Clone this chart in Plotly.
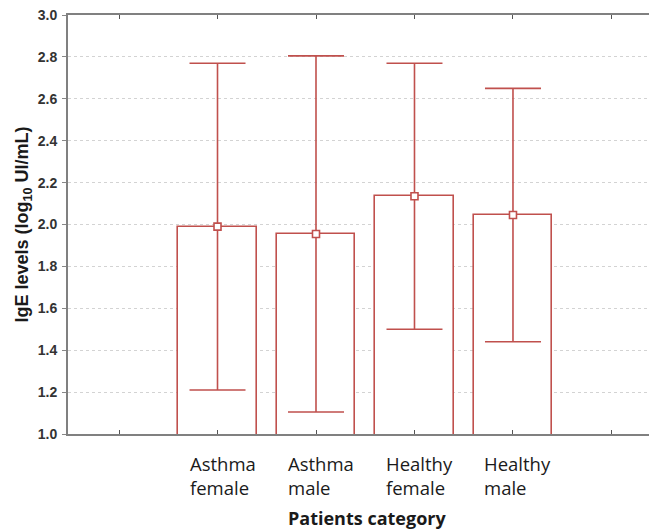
import plotly.graph_objects as go

categories = ["Asthma<br>female", "Asthma<br>male", "Healthy<br>female", "Healthy<br>male"]
means = [1.99, 1.955, 2.135, 2.045]
errors = [0.78, 0.85, 0.635, 0.605]
y_ticks = [1.0, 1.2, 1.4, 1.6, 1.8, 2.0, 2.2, 2.4, 2.6, 2.8, 3.0]
y_tick_labels = ["1.0", "1.2", "1.4", "1.6", "1.8", "2.0", "2.2", "2.4", "2.6", "2.8", "3.0"]

RED = "#c0504d"
xpos = [i + 1 for i in range(len(categories))]

W, H = 649, 530
L, R, T, B = 68, 0, 15, 96
PW, PH = W - L - R, H - T - B

fig = go.Figure()
fig.add_trace(go.Bar(
    x=xpos, y=means, width=0.8,
    marker=dict(color="white", line=dict(color=RED, width=1.6)),
    hoverinfo="skip", showlegend=False,
))
fig.add_trace(go.Scatter(
    x=xpos, y=means, mode="markers",
    marker=dict(symbol="square", size=7, color="white", line=dict(color=RED, width=1.6)),
    error_y=dict(type="data", array=errors, symmetric=True, color=RED, thickness=1.6, width=28),
    showlegend=False,
))

for xp, lab in zip(xpos, categories):
    fig.add_annotation(
        x=xp, y=-(449 - 434) / PH, xref="x", yref="paper", text=lab, showarrow=False,
        xanchor="center", yanchor="top", align="left", xshift=5,
        font=dict(family="Open Sans", size=18.5, color="#1a1a1a"),
    )

fig.add_annotation(
    x=(367 - L) / PW, y=-(518 - 434) / PH, xref="paper", yref="paper",
    text="<b>Patients category</b>", showarrow=False, yanchor="middle",
    font=dict(family="Open Sans", size=18, color="#1a1a1a"),
)

fig.update_layout(
    width=W, height=H,
    margin=dict(l=L, r=R, t=T, b=B, autoexpand=False),
    paper_bgcolor="white", plot_bgcolor="white",
    bargap=0,
    xaxis=dict(
        range=[-0.518, 5.381], tickvals=[0, 1, 2, 3, 4, 5], showticklabels=False,
        showline=True, linecolor="#808080", linewidth=2, mirror="ticks",
        ticks="inside", ticklen=4, tickcolor="#555", tickwidth=1,
        showgrid=False, zeroline=False,
    ),
    yaxis=dict(
        range=[1.0, 3.0], tickvals=y_ticks, ticktext=y_tick_labels,
        showline=True, linecolor="#808080", linewidth=2,
        ticks="outside", ticklen=4, tickcolor="#888", tickwidth=1,
        ticklabelstandoff=2,
        showgrid=True, gridcolor="#d3d3d3", gridwidth=1, griddash="dot",
        zeroline=False,
        tickfont=dict(family="Liberation Sans", size=14, color="#333333", weight="bold"),
        title=dict(text="<b>IgE levels (log<sub>10</sub> UI/mL)</b>",
                   font=dict(family="Liberation Sans", size=18, color="#1a1a1a"), standoff=4),
    ),
)

fig.write_html(
    "out.html",
    config={"displayModeBar": False},
    post_script="document.body.style.margin='0';document.body.style.overflow='hidden';",
)
